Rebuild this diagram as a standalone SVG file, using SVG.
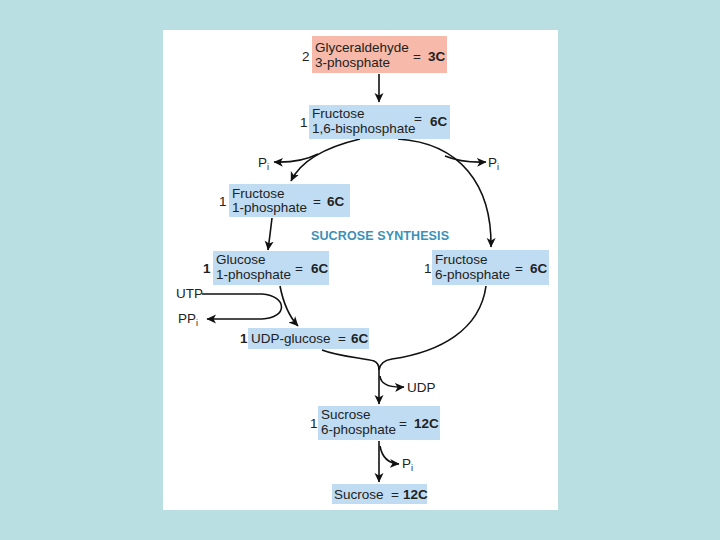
<svg xmlns="http://www.w3.org/2000/svg" width="720" height="540" viewBox="0 0 720 540">
<defs>
<style>
.t{font-family:"Liberation Sans",Arial,sans-serif;font-size:13.5px;fill:#222}
.b{font-weight:bold}
.sub{font-size:9px}
.blue{fill:#bfdcf3}
.pink{fill:#f7b9a9}
.c{fill:none;stroke:#111;stroke-width:1.6}
</style>
<marker id="ah" markerWidth="10" markerHeight="10" refX="9" refY="5" orient="auto" markerUnits="userSpaceOnUse">
<path d="M0,0.5 L9.5,5 L0,9.5 L2.5,5 z" fill="#111"/>
</marker>
</defs>
<rect width="720" height="540" fill="#b9dfe2"/>
<rect x="163" y="30" width="395" height="480" fill="#ffffff"/>

<g id="connectors">
<path class="c" d="M379,74 L379,102" marker-end="url(#ah)"/>
<path class="c" d="M360,139 Q305,152 291,181" marker-end="url(#ah)"/>
<path class="c" d="M318,154 Q300,163 274,162" marker-end="url(#ah)"/>
<path class="c" d="M398,139 C460,143 492,185 491,247" marker-end="url(#ah)"/>
<path class="c" d="M445,156 Q462,163 486,162" marker-end="url(#ah)"/>
<path class="c" d="M272,218 Q270,235 268,250" marker-end="url(#ah)"/>
<path class="c" d="M280,286 Q285,312 298,326" marker-end="url(#ah)"/>
<path class="c" d="M202,294 L262,294 C288,296 288,318 262,319 L207,319" marker-end="url(#ah)"/>
<path class="c" d="M322,350 C340,357 365,358 374,361 Q379,363 379,370"/>
<path class="c" d="M486,286 C480,330 440,352 392,359 Q380,361 379,370"/>
<path class="c" d="M379,368 L379,404" marker-end="url(#ah)"/>
<path class="c" d="M380,376 Q381,388 404,387" marker-end="url(#ah)"/>
<path class="c" d="M379,441 L379,482" marker-end="url(#ah)"/>
<path class="c" d="M380,446 Q383,463 399,464" marker-end="url(#ah)"/>
</g>

<g id="g3p">
<rect class="pink" x="312" y="36" width="135" height="37"/>
<text class="t" x="302" y="61">2</text>
<text class="t" x="315" y="52">Glyceraldehyde</text>
<text class="t" x="315" y="67">3-phosphate</text>
<text class="t" x="413" y="61">=</text>
<text class="t b" x="428" y="61">3C</text>
</g>

<g id="f16bp">
<rect class="blue" x="309" y="105" width="141" height="34"/>
<text class="t" x="300" y="127">1</text>
<text class="t" x="312" y="118">Fructose</text>
<text class="t" x="312" y="133">1,6-bisphosphate</text>
<text class="t" x="414" y="123">=</text>
<text class="t b" x="430" y="126">6C</text>
</g>

<g id="pi-left"><text class="t" x="258" y="167">P<tspan class="sub" dy="3">i</tspan></text></g>
<g id="pi-right"><text class="t" x="488" y="167">P<tspan class="sub" dy="3">i</tspan></text></g>

<g id="f1p">
<rect class="blue" x="229" y="184" width="121" height="33"/>
<text class="t" x="219" y="206">1</text>
<text class="t" x="232" y="198">Fructose</text>
<text class="t" x="232" y="212">1-phosphate</text>
<text class="t" x="313" y="206">=</text>
<text class="t b" x="327" y="206">6C</text>
</g>

<g id="title">
<text class="t b" x="311" y="240" style="font-size:12.5px;fill:#3a91b7" textLength="138">SUCROSE SYNTHESIS</text>
</g>

<g id="g1p">
<rect class="blue" x="213" y="251" width="116" height="34"/>
<text class="t b" x="203" y="273">1</text>
<text class="t" x="216" y="264">Glucose</text>
<text class="t" x="216" y="279">1-phosphate</text>
<text class="t" x="295" y="273">=</text>
<text class="t b" x="311" y="273">6C</text>
</g>

<g id="f6p">
<rect class="blue" x="432" y="250" width="117" height="35"/>
<text class="t" x="424" y="273">1</text>
<text class="t" x="435" y="264">Fructose</text>
<text class="t" x="435" y="279">6-phosphate</text>
<text class="t" x="515" y="273">=</text>
<text class="t b" x="530" y="273">6C</text>
</g>

<g id="utp"><text class="t" x="176" y="298">UTP</text></g>
<g id="ppi"><text class="t" x="178" y="323">PP<tspan class="sub" dy="3">i</tspan></text></g>

<g id="udpglc">
<rect class="blue" x="248" y="328" width="121" height="21"/>
<text class="t b" x="240" y="343">1</text>
<text class="t" x="251" y="343">UDP-glucose</text>
<text class="t" x="338" y="343">=</text>
<text class="t b" x="351" y="343">6C</text>
</g>

<g id="udp"><text class="t" x="407" y="392">UDP</text></g>

<g id="s6p">
<rect class="blue" x="318" y="406" width="122" height="34"/>
<text class="t" x="310" y="428">1</text>
<text class="t" x="321" y="419">Sucrose</text>
<text class="t" x="321" y="434">6-phosphate</text>
<text class="t" x="399" y="428">=</text>
<text class="t b" x="414" y="428">12C</text>
</g>

<g id="pi-bottom"><text class="t" x="402" y="468">P<tspan class="sub" dy="3">i</tspan></text></g>

<g id="sucrose">
<rect class="blue" x="332" y="484" width="95" height="20"/>
<text class="t" x="334" y="499">Sucrose</text>
<text class="t" x="391" y="499">=</text>
<text class="t b" x="403" y="499">12C</text>
</g>
</svg>
